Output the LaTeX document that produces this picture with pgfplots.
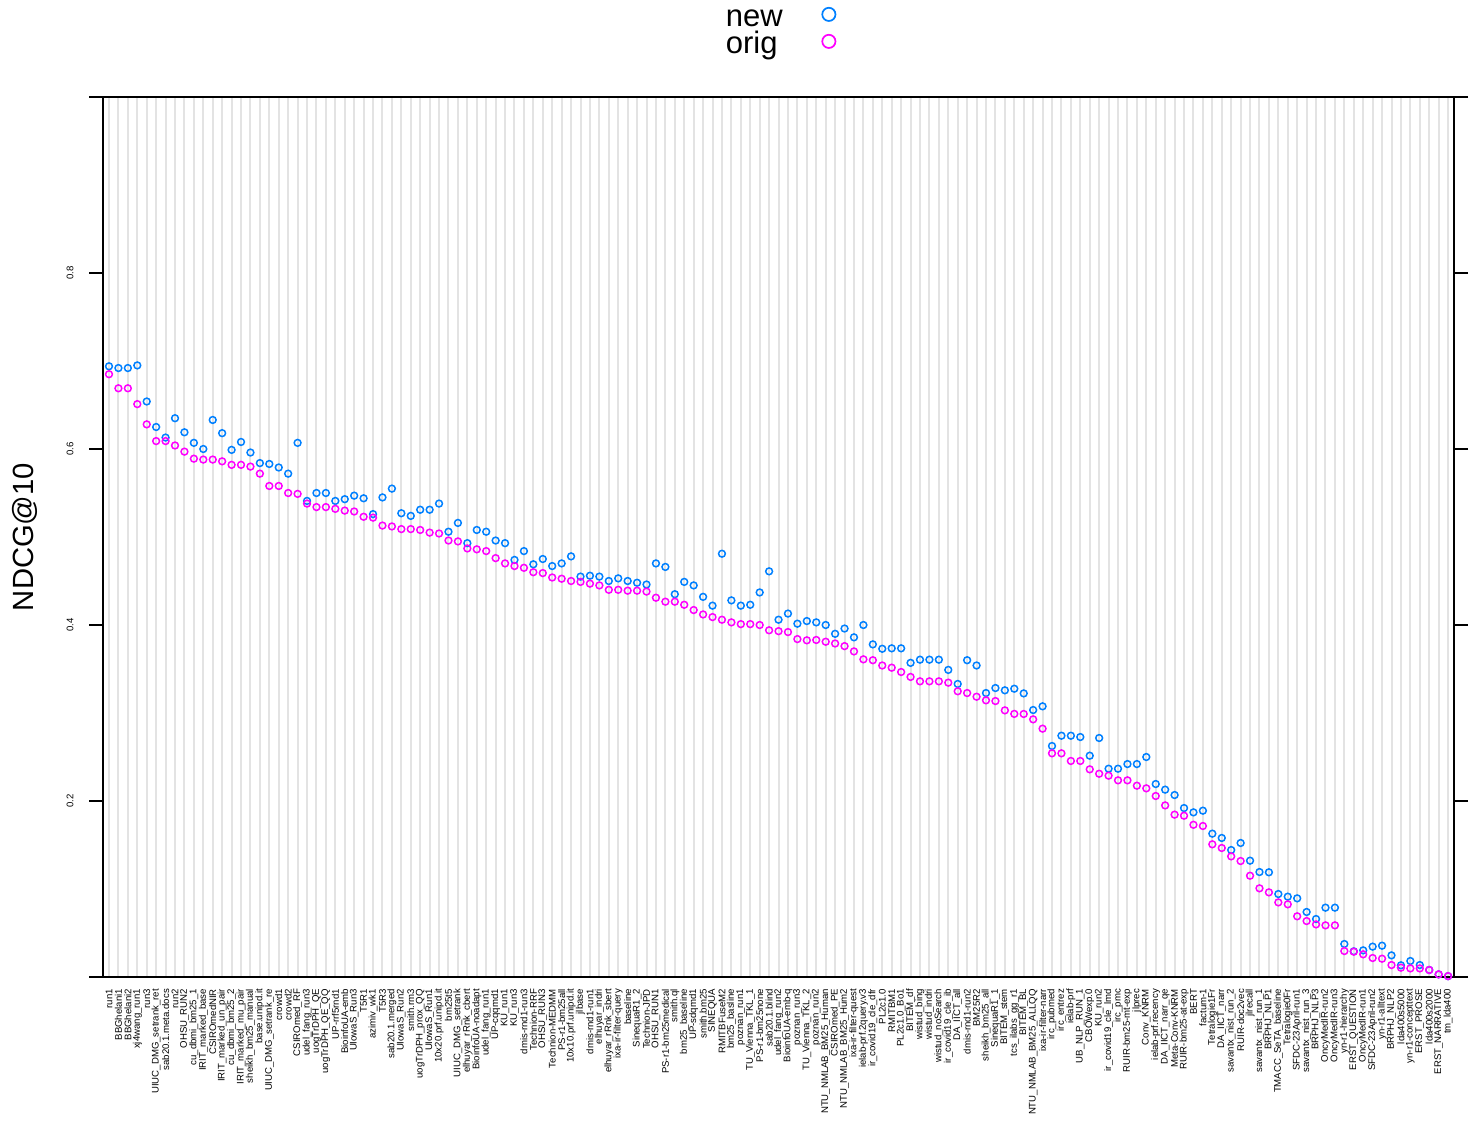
\documentclass[border=0pt]{standalone}
\usepackage{pgfplots}
\pgfplotsset{compat=1.18}
\usepackage{pgfplotstable}
\usepackage{fontspec}
\setmainfont{Liberation Sans}
\definecolor{newc}{RGB}{0,128,255}
\definecolor{origc}{RGB}{255,0,255}
\pgfplotstableread{
i new orig
1 0.694 0.685
2 0.692 0.669
3 0.692 0.669
4 0.695 0.651
5 0.654 0.628
6 0.625 0.609
7 0.613 0.609
8 0.635 0.604
9 0.619 0.597
10 0.607 0.589
11 0.600 0.588
12 0.633 0.588
13 0.618 0.586
14 0.599 0.582
15 0.608 0.582
16 0.596 0.580
17 0.584 0.572
18 0.583 0.558
19 0.579 0.558
20 0.572 0.550
21 0.607 0.549
22 0.541 0.538
23 0.550 0.534
24 0.550 0.534
25 0.541 0.532
26 0.543 0.530
27 0.547 0.529
28 0.544 0.523
29 0.526 0.522
30 0.545 0.513
31 0.555 0.512
32 0.527 0.509
33 0.524 0.509
34 0.531 0.508
35 0.531 0.505
36 0.538 0.504
37 0.506 0.496
38 0.516 0.495
39 0.493 0.487
40 0.508 0.486
41 0.506 0.484
42 0.496 0.476
43 0.493 0.470
44 0.474 0.467
45 0.484 0.465
46 0.469 0.460
47 0.475 0.459
48 0.467 0.454
49 0.470 0.4526
50 0.478 0.450
51 0.455 0.449
52 0.456 0.447
53 0.455 0.445
54 0.450 0.440
55 0.453 0.440
56 0.450 0.439
57 0.448 0.439
58 0.446 0.438
59 0.470 0.431
60 0.466 0.4265
61 0.435 0.4265
62 0.449 0.423
63 0.445 0.417
64 0.432 0.412
65 0.422 0.409
66 0.481 0.406
67 0.428 0.403
68 0.422 0.401
69 0.423 0.401
70 0.437 0.400
71 0.461 0.394
72 0.406 0.393
73 0.413 0.392
74 0.4015 0.384
75 0.4045 0.3826
76 0.403 0.383
77 0.400 0.381
78 0.390 0.379
79 0.396 0.376
80 0.386 0.370
81 0.400 0.361
82 0.378 0.360
83 0.373 0.354
84 0.3735 0.3515
85 0.3735 0.3466
86 0.357 0.341
87 0.3606 0.336
88 0.3606 0.336
89 0.3606 0.336
90 0.349 0.3345
91 0.333 0.3247
92 0.360 0.3227
93 0.354 0.3185
94 0.3227 0.3144
95 0.3284 0.3136
96 0.3258 0.303
97 0.3276 0.299
98 0.3223 0.2989
99 0.3034 0.2928
100 0.3076 0.2822
101 0.2625 0.2542
102 0.2742 0.2542
103 0.2742 0.2455
104 0.2727 0.2455
105 0.2515 0.236
106 0.2716 0.231
107 0.2367 0.2288
108 0.2367 0.2235
109 0.242 0.2235
110 0.242 0.2174
111 0.25 0.2144
112 0.2193 0.2057
113 0.2129 0.195
114 0.2068 0.1845
115 0.192 0.1833
116 0.1871 0.173
117 0.189 0.1716
118 0.1629 0.1508
119 0.158 0.1466
120 0.1443 0.1371
121 0.1523 0.1318
122 0.1322 0.1151
123 0.1193 0.1008
124 0.119 0.0962
125 0.0943 0.0848
126 0.0913 0.0826
127 0.0894 0.069
128 0.0739 0.0636
129 0.0659 0.0598
130 0.0788 0.0587
131 0.0788 0.0587
132 0.0375 0.0295
133 0.0292 0.0288
134 0.0303 0.0258
135 0.0345 0.0216
136 0.0356 0.0208
137 0.0246 0.0136
138 0.0133 0.0106
139 0.0182 0.0098
140 0.0136 0.0098
141 0.008 0.008
142 0.003 0.003
143 0.001 0.001
}\datatable
\begin{document}
\begin{tikzpicture}
\path[use as bounding box] (0,0) rectangle (735pt,560.5pt);
\begin{axis}[
  at={(51.5pt,72pt)}, anchor=south west,
  scale only axis, width=675.5pt, height=440pt,
  xmin=0.364, xmax=143.63, ymin=0, ymax=1,
  xtick={1,...,143},
  xticklabels={run1,BBGhelani1,BBGhelani2,xj4wang\_run1,run3,UIUC\_DMG\_setrank\_ret,sab20.1.meta.docs,run2,OHSU\_RUN2,cu\_dbmi\_bm25\_1,IRIT\_marked\_base,CSIROmedNIR,IRIT\_marked\_un\_pair,cu\_dbmi\_bm25\_2,IRIT\_marked\_mu\_pair,sheikh\_bm25\_manual,base.unipd.it,UIUC\_DMG\_setrank\_re,crowd1,crowd2,CSIROmed\_RF,udel\_fang\_run3,uogTrDPH\_QE,uogTrDPH\_QE\_QQ,UP-rrf5rnd1,BioinfoUA-emb,UIowaS\_Run3,T5R1,azimiv\_wk1,T5R3,sab20.1.merged,UIowaS\_Run2,smith.rm3,uogTrDPH\_prox\_QQ,UIowaS\_Run1,10x20.prf.unipd.it,bm25t5,UIUC\_DMG\_setrank,elhuyar\_rRnk\_cbert,BioinfoUA-noadapt,udel\_fang\_run1,UP-cqqmd1,KU\_run1,KU\_run3,dmis-rnd1-run3,Technion-RRF,OHSU\_RUN3,Technion-MEDMM,PS-r1-bm25all,10x10.prf.unipd.it,jlbase,dmis-rnd1-run1,elhuyar\_indri,elhuyar\_rRnk\_sbert,ixa-ir-filter-query,baseline,SinequaR1\_2,Technion-JPD,OHSU\_RUN1,PS-r1-bm25medical,smith.ql,bm25\_baseline,UP-sdqmd1,smith.bm25,SINEQUA,RMITBFuseM2,bm25\_basline,poznan\_run1,TU\_Vienna\_TKL\_1,PS-r1-bm25none,sab20.1.blind,udel\_fang\_run2,BioinfoUA-emb-q,poznan\_run3,TU\_Vienna\_TKL\_2,poznan\_run2,NTU\_NMLAB\_BM25\_Human,CSIROmed\_PE,NTU\_NMLAB\_BM25\_Hum2,ixa-ir-filter-quest,ielab-prf.2query.v3,ir\_covid19\_cle\_dfr,PL2c1.0,RMITBM1,PL2c1.0\_Bo1,BITEM\_df,wistud\_bing,wistud\_indri,wistud\_noSearch,ir\_covid19\_cle\_ib,DA\_IICT\_all,dmis-rnd1-run2,BM25R2,sheikh\_bm25\_all,SinequaR1\_1,BITEM\_stem,tcs\_ilabs\_gg\_r1,BITEM\_BL,NTU\_NMLAB\_BM25\_ALLQQ,ixa-ir-filter-narr,irc\_pubmed,irc\_entrez,ielab-prf,UB\_NLP\_RUN\_1,CBOWexp.0,KU\_run2,ir\_covid19\_cle\_lmd,irc\_pmc,RUIR-bm25-mt-exp,jlprec,Conv\_KNRM,ielab-prf.recency,DA\_IICT\_narr\_qe,Meta-Conv-KNRM,RUIR-bm25-at-exp,BERT,factum-1,Tetralogie1Fr,DA\_IICT\_narr,savantx\_nist\_run\_2,RUIR-doc2vec,jlrecall,savantx\_nist\_run\_1,BRPHJ\_NLP1,TMACC\_SeTA\_baseline,Tetralogie0Fr,SFDC-23April-run1,savantx\_nist\_run\_3,BRPHJ\_NLP3,OncyMedIR-run2,OncyMedIR-run3,yn-r1-hierarchy,ERST\_QUESTION,OncyMedIR-run1,SFDC-23April-run2,yn-r1-alltext,BRPHJ\_NLP2,lda400s5000,yn-r1-concepttext,ERST\_PROSE,lda400s2000,ERST\_NARRATIVE,tm\_lda400},
  xtick style={draw=none},
  xticklabel style={font=\fontsize{4.8}{5}\selectfont, yshift=4.5pt, rotate=90, anchor=east},
  xmajorgrids, major x grid style={color=black!11, line width=1pt},
  ytick={0,0.2,0.4,0.6,0.8,1}, yticklabels={,0.2,0.4,0.6,0.8,},
  ytick pos=both, yticklabel pos=left,
  tick align=outside, major tick length=7pt,
  ytick style={black, line width=0.8pt},
  yticklabel style={font=\fontsize{4.8}{5}\selectfont, xshift=-9.5pt, rotate=90, anchor=center},
  /pgf/number format/assume math mode=true,
  axis line style={black, line width=1pt},
  ylabel={NDCG@10},
  ylabel style={at={(axis description cs:-0.0577,0.5)}, anchor=center, font=\fontsize{14.6}{16}\selectfont},
  legend plot pos=right,
  legend cell align=left,
  legend image post style={mark size=3.3pt, mark options={line width=0.85pt}, yshift=2.5pt},
  legend style={draw=none, fill=none, at={(axis description cs:0.4604,1.104)}, anchor=north west,
    font=\fontsize{15.5}{15}\selectfont, column sep=19.5pt, row sep=0pt, inner sep=0pt,
    nodes={inner sep=0.25pt, text height=10pt, text depth=3pt}},
]
\addplot[only marks, mark=o, mark size=1.7pt, draw=newc, mark options={line width=0.75pt}] table[x=i, y=new] {\datatable};
\addlegendentry{new}
\addplot[only marks, mark=o, mark size=1.7pt, draw=origc, mark options={line width=0.75pt}] table[x=i, y=orig] {\datatable};
\addlegendentry{orig}
\end{axis}
\end{tikzpicture}
\end{document}
